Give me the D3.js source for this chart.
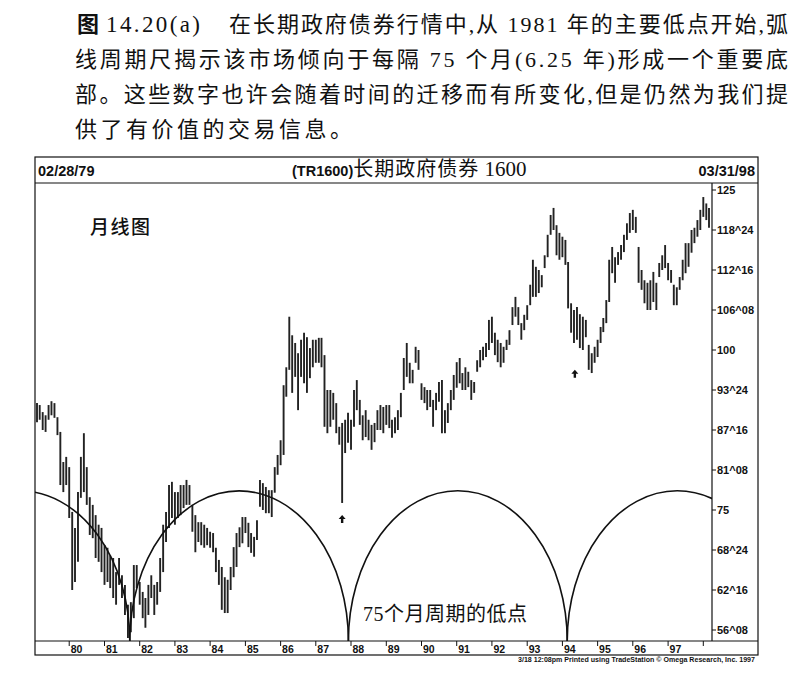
<!DOCTYPE html>
<html>
<head>
<meta charset="utf-8">
<title>长期政府债券 1600</title>
<script src="https://d3js.org/d3.v7.min.js"></script>
<style>
    body { margin: 0; background: #fff; }
    .cap { font-family: "Liberation Serif", "Noto Sans CJK SC", serif; font-size: 22px; fill: #111; }
    .ts { font-family: "Liberation Sans", Arial, sans-serif; font-weight: bold; fill: #111; }
    .cjk { font-family: "Liberation Serif", "Noto Sans CJK SC", serif; fill: #111; }
</style>
</head>
<body>
<svg width="806" height="680"></svg>
<script>
    // first monthly bar and cycle settings
    const firstMonth = new Date(1979, 1, 1);
    const lastMonth = new Date(1998, 2, 1);

    // monthly highs, Feb 1979 .. Mar 1998
    const highs = [
        91.7, 91.4, 90.3, 89.8, 91.4, 92.0, 91.7, 89.5, 87.2, 82.5, 83.3,
        81.7, 74.7, 72.2, 77.8, 83.3, 87.0, 81.7, 77.0, 75.8, 74.2, 72.7, 72.2,
        69.5, 69.1, 67.9, 67.5, 65.3, 67.5, 64.8, 63.3, 60.2, 60.6, 66.4, 66.4,
        63.75, 62.2, 61.25, 63.3, 64.8, 63.3, 63.75, 67.5, 72.7, 74.7, 78.9, 79.4,
        77.8, 77.8, 78.9, 78.9, 79.7, 78.9, 75.8, 74.2, 73.1, 73.1, 72.7, 72.2,
        71.6, 71.4, 69.1, 67.2, 66.1, 64.5, 64.1, 66.1, 69.2, 71.4, 72.3, 73.9,
        73.9, 73.0, 71.4, 70.8, 73.4, 79.7, 79.2, 78.6, 78.1, 78.1, 81.7, 83.6,
        85.9, 94.5, 97.3, 105.2, 102.3, 101.1, 99.5, 101.6, 102.7, 102.0, 100.3, 101.6,
        101.6, 101.9, 101.9, 99.2, 93.75, 93.75, 93.3, 91.7, 88.0, 88.6, 89.1, 90.2,
        89.1, 93.75, 95.3, 92.2, 89.8, 90.6, 89.1, 88.3, 88.6, 90.6, 91.4, 91.1,
        91.4, 91.4, 89.1, 89.5, 90.6, 93.3, 98.75, 101.1, 98.0, 96.9, 100.5, 100,
        94.8, 94.2, 93.75, 93.75, 92.2, 93.3, 95.0, 95.3, 90.6, 91.7, 93.75, 96.1,
        98.1, 98.75, 96.4, 97.3, 96.6, 95.3, 95.0, 98.4, 100, 100.5, 101.1, 104.7,
        105.2, 102.7, 101.6, 101.1, 100.5, 101.6, 103.1, 106.7, 108.3, 106.7, 104.2, 105.5,
        107.0, 110.2, 114.1, 113.0, 112.5, 111.7, 114.8, 118.0, 121.1, 122.2, 119.5, 118.3,
        117.7, 117.2, 113.75, 107.3, 106.25, 106.7, 105.6, 105.2, 104.7, 100.8, 99.5, 100.5,
        101.6, 103.6, 105.0, 107.8, 114.1, 116.1, 114.5, 115.3, 116.4, 118.0, 119.8, 121.4,
        121.9, 120.8, 116.1, 112.5, 110.9, 110.5, 110.9, 112.2, 110.5, 113.6, 114.8, 116.4,
        113.6, 112.5, 110.2, 109.8, 111.4, 114.1, 116.7, 116.7, 118.75, 119.1, 120.3, 121.9,
        123.9, 122.9, 122.2
    ];

    // monthly lows, same months
    const lows = [
        88.7, 89.1, 87.5, 87.2, 89.1, 89.8, 89.4, 86.7, 78.9, 77.8, 78.9,
        73.75, 62.5, 63.75, 66.9, 76.9, 77.8, 75.8, 71.1, 70.6, 67.5, 66.9, 65.3,
        63.3, 63.75, 62.8, 61.25, 60.2, 63.3, 61.25, 58.6, 55.0, 55.9, 58.1, 62.8,
        60.2, 58.1, 56.6, 58.6, 61.25, 58.6, 60.2, 62.2, 65.3, 70.0, 72.2, 73.75,
        72.7, 73.75, 74.2, 75.3, 75.8, 75.8, 71.6, 68.4, 70.0, 69.5, 69.1, 69.5,
        69.1, 68.4, 65.3, 63.3, 59.4, 58.9, 58.9, 62.5, 64.5, 66.1, 69.2, 69.8,
        71.4, 69.2, 68.3, 67.7, 70.3, 75.5, 75.0, 74.5, 74.5, 73.9, 77.7, 80.5,
        82.0, 83.6, 92.7, 96.9, 93.3, 95.8, 90.6, 95.8, 94.8, 93.3, 95.6, 97.3,
        98.0, 98.0, 97.3, 88.0, 87.0, 88.0, 89.1, 87.0, 85.2, 76.1, 83.9, 85.5,
        84.4, 88.0, 90.6, 88.3, 85.9, 86.4, 85.9, 84.4, 85.6, 87.5, 87.5, 87.0,
        88.3, 87.8, 86.3, 87.0, 87.5, 89.5, 93.75, 95.8, 94.8, 94.8, 98.0, 96.9,
        92.2, 91.7, 90.6, 91.1, 88.0, 90.6, 91.9, 87.0, 87.0, 88.6, 90.6, 92.2,
        94.1, 94.8, 93.75, 93.75, 94.2, 92.2, 93.3, 96.6, 97.3, 98.4, 98.9, 100,
        101.1, 99.2, 98.1, 97.3, 98.0, 100, 100.8, 103.9, 105.2, 103.9, 101.6, 103.1,
        104.7, 107.0, 108.3, 108.3, 108.9, 109.8, 112.8, 114.5, 118.0, 118.75, 114.8, 114.1,
        114.5, 113.3, 106.5, 102.7, 101.1, 101.6, 100.3, 100, 102.0, 96.9, 96.4, 98.0,
        98.9, 101.1, 102.8, 104.2, 107.5, 112.0, 110.5, 113.3, 114.1, 115.3, 117.2, 118.3,
        118.75, 118.3, 110.5, 109.4, 107.3, 106.25, 106.25, 107.5, 106.25, 111.4, 112.5, 112.8,
        110.9, 110.5, 107.0, 107.0, 109.4, 110.9, 112.0, 113.0, 115.2, 116.7, 117.7, 118.75,
        120.8, 120.3, 119.1
    ];

    // right axis ticks (32nds notation)
    const yTicks = [125, 118.75, 112.5, 106.25, 100, 93.75, 87.5, 81.25, 75, 68.75, 62.5, 56.25];
    const yTickLabels = ["125", "118^24", "112^16", "106^08", "100", "93^24", "87^16", "81^08", "75", "68^24", "62^16", "56^08"];

    // bottom axis years
    const xTickYears = [1980, 1981, 1982, 1983, 1984, 1985, 1986, 1987, 1988, 1989, 1990, 1991, 1992, 1993, 1994, 1995, 1996, 1997, 1998];
    const xTickLabels = ["80", "81", "82", "83", "84", "85", "86", "87", "88", "89", "90", "91", "92", "93", "94", "95", "96", "97", ""];

    // 75-month cycle lows and arc height
    const cycleLows = [new Date(1981, 8, 20), new Date(1987, 11, 5), new Date(1994, 1, 20)];
    const cycleMonths = 75;
    const arcPeak = 78;

    // arrows under the lows
    const arrowDates = [new Date(1987, 9, 1), new Date(1994, 4, 10)];
    const arrowValues = [74.2, 96.9];

    const captionLines = [
        "线周期尺揭示该市场倾向于每隔 75 个月(6.25 年)形成一个重要底",
        "部。这些数字也许会随着时间的迁移而有所变化,但是仍然为我们提",
        "供了有价值的交易信息。"
    ];

    const svg = d3.select("svg");

    // frame geometry
    const frameL = 35, frameR = 758, frameT = 157, headB = 183, plotB = 641, frameB = 655;
    const axisX = 712;

    const months = d3.timeMonth.range(firstMonth, d3.timeMonth.offset(lastMonth, 1));
    const x = d3.scaleTime().domain([firstMonth, lastMonth]).range([37, 709]);
    const y = d3.scaleLinear().domain([56.25, 125]).range([630, 190]);

    // caption
    svg.append("text").attr("class", "cap").attr("x", 77).attr("y", 32)
        .style("font-family", "Noto Sans CJK SC").style("font-weight", "bold").text("图");
    svg.append("text").attr("class", "cap").attr("x", 106).attr("y", 32)
        .style("font-size", "23px").attr("textLength", 94).attr("lengthAdjust", "spacing").text("14.20(a)");
    svg.append("text").attr("class", "cap").attr("x", 229).attr("y", 32)
        .attr("textLength", 559).attr("lengthAdjust", "spacing")
        .text("在长期政府债券行情中,从 1981 年的主要低点开始,弧");
    const capLen = [713, 713, 277];
    captionLines.forEach((t, i) => {
        svg.append("text").attr("class", "cap").attr("x", 75).attr("y", 67 + i * 35)
            .attr("textLength", capLen[i]).attr("lengthAdjust", "spacing").text(t);
    });

    // frame and header
    svg.append("rect").attr("x", frameL).attr("y", frameT)
        .attr("width", frameR - frameL).attr("height", frameB - frameT)
        .attr("fill", "none").attr("stroke", "#111").attr("stroke-width", 1.2);
    svg.append("line").attr("x1", frameL).attr("x2", frameR).attr("y1", headB).attr("y2", headB)
        .attr("stroke", "#111").attr("stroke-width", 1.2);
    svg.append("line").attr("x1", frameL).attr("x2", frameR).attr("y1", plotB).attr("y2", plotB)
        .attr("stroke", "#111").attr("stroke-width", 1.2);

    svg.append("text").attr("class", "ts").attr("x", 38).attr("y", 176).style("font-size", "14.5px").text("02/28/79");
    svg.append("text").attr("class", "ts").attr("x", 755).attr("y", 176).attr("text-anchor", "end")
        .style("font-size", "14.5px").text("03/31/98");
    const head = svg.append("text").attr("x", 292).attr("y", 176);
    head.append("tspan").attr("class", "ts").style("font-size", "14.5px").text("(TR1600)");
    head.append("tspan").attr("class", "cjk").style("font-size", "20px").style("letter-spacing", "1px").text("长期政府债券");
    head.append("tspan").attr("class", "cjk").style("font-size", "21px").text(" 1600");

    // plot clip
    svg.append("clipPath").attr("id", "plot").append("rect")
        .attr("x", frameL).attr("y", headB).attr("width", axisX - frameL).attr("height", plotB - headB);
    const plot = svg.append("g").attr("clip-path", "url(#plot)");

    // monthly bars
    plot.selectAll("line.bar")
        .data(months)
        .enter().append("line")
        .attr("class", "bar")
        .attr("x1", d => x(d)).attr("x2", d => x(d))
        .attr("y1", (d, i) => y(highs[i]))
        .attr("y2", (d, i) => y(lows[i]))
        .attr("stroke", "#222")
        .attr("stroke-width", 1.9);

    // cycle arcs
    const lowsAll = [d3.timeMonth.offset(cycleLows[0], -cycleMonths), ...cycleLows,
        d3.timeMonth.offset(cycleLows[cycleLows.length - 1], cycleMonths)];
    const ry = plotB - y(arcPeak);
    plot.selectAll("path.arc")
        .data(d3.pairs(lowsAll))
        .enter().append("path")
        .attr("class", "arc")
        .attr("d", ([a, b]) => {
            const x1 = x(a), x2 = x(b);
            return "M" + x1 + "," + plotB + " A" + (x2 - x1) / 2 + "," + ry + " 0 0 1 " + x2 + "," + plotB;
        })
        .attr("fill", "none")
        .attr("stroke", "#111")
        .attr("stroke-width", 1.6);

    // arrows
    plot.selectAll("path.arrow")
        .data(arrowDates)
        .enter().append("path")
        .attr("class", "arrow")
        .attr("transform", (d, i) => "translate(" + x(d) + "," + y(arrowValues[i]) + ")")
        .attr("d", "M0,0 L3.5,4 L1.2,4 L1.2,8 L-1.2,8 L-1.2,4 L-3.5,4 Z")
        .attr("fill", "#111");

    // right axis
    svg.append("line").attr("x1", axisX).attr("x2", axisX).attr("y1", headB).attr("y2", plotB)
        .attr("stroke", "#111").attr("stroke-width", 1.2);
    const yt = svg.selectAll("g.ytick").data(yTicks).enter().append("g")
        .attr("class", "ytick")
        .attr("transform", d => "translate(" + axisX + "," + y(d) + ")");
    yt.append("line").attr("x2", 4).attr("stroke", "#111").attr("stroke-width", 1);
    yt.append("text").attr("class", "ts").attr("x", 5).attr("dy", "0.36em")
        .style("font-size", "11px").text((d, i) => yTickLabels[i]);

    // bottom axis
    const xt = svg.selectAll("g.xtick").data(xTickYears).enter().append("g")
        .attr("class", "xtick")
        .attr("transform", d => "translate(" + x(new Date(d, 0, 1)) + "," + plotB + ")");
    xt.append("line").attr("y2", 5).attr("stroke", "#111").attr("stroke-width", 1);
    xt.append("text").attr("class", "ts").attr("x", 1.5).attr("y", 11.5)
        .style("font-size", "10.5px").text((d, i) => xTickLabels[i]);

    svg.append("text").attr("class", "ts").attr("x", 755).attr("y", 662).attr("text-anchor", "end")
        .attr("textLength", 237).attr("lengthAdjust", "spacingAndGlyphs")
        .style("font-size", "7.5px")
        .text("3/18 12:08pm Printed using TradeStation © Omega Research, Inc. 1997");

    // annotations
    svg.append("text").attr("class", "cjk").attr("x", 90).attr("y", 234)
        .style("font-family", "Noto Sans CJK SC").style("font-size", "19px").style("font-weight", 500)
        .style("letter-spacing", "1.5px").text("月线图");
    svg.append("text").attr("class", "cjk").attr("x", 363).attr("y", 621)
        .style("font-size", "20px").attr("textLength", 164).attr("lengthAdjust", "spacing")
        .text("75个月周期的低点");
</script>
</body>
</html>
